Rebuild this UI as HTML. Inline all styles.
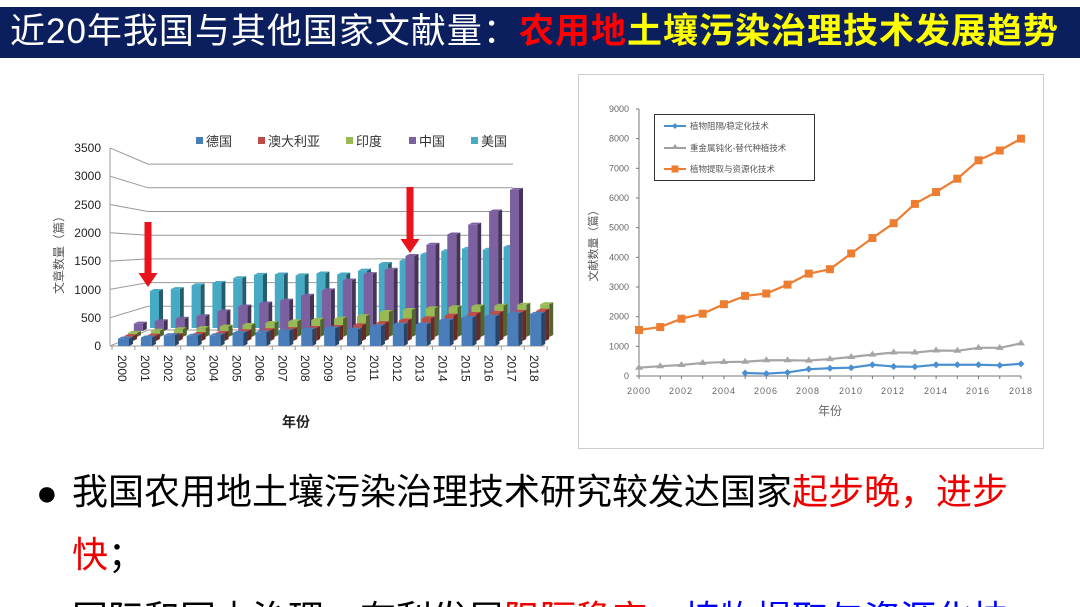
<!DOCTYPE html>
<html><head><meta charset="utf-8">
<style>
html,body{margin:0;padding:0;background:#fff;width:1080px;height:607px;overflow:hidden;position:relative;font-family:"Liberation Sans","Noto Sans CJK SC",sans-serif;}
#hdr{position:absolute;left:0;top:7px;width:1080px;height:51px;background:#0b1f5e;}
#hdr div{position:absolute;left:10px;top:5px;font-size:35px;line-height:40px;color:#fff;white-space:nowrap;letter-spacing:1px;}
.r{color:#f00;font-weight:bold}.y{color:#ff0;font-weight:bold}
.t{position:absolute;font-size:36px;line-height:40px;color:#000;white-space:nowrap;}
#clip{position:absolute;left:0;top:590px;width:1080px;height:17px;overflow:hidden;}
svg{position:absolute;left:0;top:0}
</style></head><body>
<div id="hdr"><div>近20年我国与其他国家文献量：<span class="r">农用地</span><span class="y">土壤污染治理技术发展趋势</span></div></div>

<svg id="s" width="1080" height="607" font-family="Liberation Sans, Noto Sans CJK SC, sans-serif">
<g id="left"></g>
<g id="right"></g>
<g font-size="13" fill="#333">
<rect x="196" y="137" width="7" height="7" fill="#4a7ebb"/><text x="206" y="146">德国</text>
<rect x="258" y="137" width="7" height="7" fill="#be4b48"/><text x="268" y="146">澳大利亚</text>
<rect x="346" y="137" width="7" height="7" fill="#98b954"/><text x="356" y="146">印度</text>
<rect x="409" y="137" width="7" height="7" fill="#7d60a0"/><text x="419" y="146">中国</text>
<rect x="471" y="137" width="7" height="7" fill="#46aac5"/><text x="481" y="146">美国</text>
</g>
<g font-size="12" fill="#222" text-anchor="end">
<text x="101" y="152">3500</text><text x="101" y="180">3000</text><text x="101" y="209">2500</text>
<text x="101" y="237">2000</text><text x="101" y="265">1500</text><text x="101" y="294">1000</text>
<text x="101" y="322">500</text><text x="101" y="350">0</text>
</g>
<text transform="translate(63,252) rotate(-90)" font-size="12" fill="#555" text-anchor="middle">文章数量（篇）</text>
<g id="xl" font-size="12" fill="#222"></g>
<text x="296" y="427" font-size="14" font-weight="bold" fill="#222" text-anchor="middle">年份</text>
<rect x="578.5" y="74.5" width="465" height="374" fill="none" stroke="#ccc"/>
<g font-size="9" fill="#666" text-anchor="end" id="ryl"></g>
<g font-size="9" fill="#666" text-anchor="middle" letter-spacing="1">
<text x="639" y="394">2000</text><text x="681" y="394">2002</text><text x="724" y="394">2004</text>
<text x="766" y="394">2006</text><text x="808" y="394">2008</text><text x="851" y="394">2010</text>
<text x="893" y="394">2012</text><text x="936" y="394">2014</text><text x="978" y="394">2016</text>
<text x="1021" y="394">2018</text>
</g>
<text x="830" y="415" font-size="12" fill="#666" text-anchor="middle">年份</text>
<text transform="translate(597,243) rotate(-90)" font-size="11" fill="#555" text-anchor="middle">文献数量（篇）</text>
<rect x="654.5" y="114.5" width="160" height="66" fill="#fff" stroke="#333" stroke-width="1"/>
<g font-size="8.5" fill="#555">
<line x1="664" y1="126" x2="686" y2="126" stroke="#4a90d0" stroke-width="2"/><path d="M675 123l3 3-3 3-3-3z" fill="#4a90d0"/>
<text x="690" y="129">植物阻隔/稳定化技术</text>
<line x1="664" y1="148" x2="686" y2="148" stroke="#a0a0a0" stroke-width="2"/><path d="M675 144l3.5 5h-7z" fill="#a0a0a0"/>
<text x="690" y="151">重金属钝化-替代种植技术</text>
<line x1="664" y1="169" x2="686" y2="169" stroke="#ed7d31" stroke-width="2"/><rect x="671.5" y="165.5" width="7" height="7" fill="#ed7d31"/>
<text x="690" y="172">植物提取与资源化技术</text>
</g>
</svg>

<div class="t" style="left:36px;top:473px;">●</div>
<div class="t" style="left:72px;top:472px;">我国农用地土壤污染治理技术研究较发达国家<span style="color:#e00">起步晚，进步</span></div>
<div class="t" style="left:72px;top:535px;"><span style="color:#e00">快</span>；</div>
<div id="clip"><div class="t" style="left:72px;top:9px;">国际和国内治理，有利发展<span style="color:#e00">阻隔稳定</span>，<span style="color:#00f">植物提取与资源化技</span></div></div>

<script>
var NS="http://www.w3.org/2000/svg";
function el(p,t,a){var e=document.createElementNS(NS,t);for(var k in a)e.setAttribute(k,a[k]);p.appendChild(e);return e;}
var L=document.getElementById('left');
for(var i=0;i<=7;i++){
 var yf=346-i*28.3, yb=330-i*23.7;
 el(L,'path',{d:'M110 '+yf+'L148 '+yb+'L513 '+yb,fill:'none',stroke:'#999','stroke-width':1});
}
el(L,'line',{x1:110,y1:148,x2:110,y2:346,stroke:'#999'});
el(L,'line',{x1:110,y1:346,x2:545,y2:346,stroke:'#999'});
for(var i=0;i<=19;i++){var x=112+i*22.9;el(L,'line',{x1:x,y1:346,x2:x,y2:350,stroke:'#999'});}
var years=[];for(var y=2000;y<=2018;y++)years.push(y);
var xl=document.getElementById('xl');
years.forEach(function(y,i){var x=118+i*22.9;el(xl,'text',{transform:'translate('+x+',355) rotate(90)'}).textContent=y;});
function shade(c,f){var n=parseInt(c.slice(1),16);var r=(n>>16)*f|0,g=((n>>8)&255)*f|0,b=(n&255)*f|0;return 'rgb('+r+','+g+','+b+')';}
function bar(x,base,h,c,w){
 w=w||9;
 el(L,'path',{d:'M'+(x+w)+' '+(base-h)+'l4 -2v'+h+'l-4 2z',fill:shade(c,0.55)});
 el(L,'path',{d:'M'+x+' '+(base-h)+'l4 -2h'+w+'l-4 2z',fill:c});
 el(L,'rect',{x:x,y:base-h,width:w,height:h,fill:c});
}
var usa=[780,820,900,950,1050,1120,1130,1110,1150,1130,1210,1350,1420,1550,1620,1670,1650,1710];
var chn=[150,200,250,300,400,500,560,620,720,830,1030,1160,1250,1530,1760,1970,2170,2440,2880];
var ind=[80,120,150,170,200,230,270,300,330,350,400,480,520,550,570,590,600,620,630];
var aus=[90,100,110,130,150,180,200,220,240,260,290,330,380,420,470,500,520,540,560];
var ger=[130,150,190,180,190,230,240,270,290,310,290,350,380,380,450,500,520,570,570];
usa.forEach(function(v,i){bar(150+i*20.8,328,v*0.0474,'#46aac5',9);});
chn.forEach(function(v,i){var x=510-(18-i)*20.9;bar(x,331,v*0.049,'#7d60a0',9);});
ind.forEach(function(v,i){bar(128+i*22.9,337,v*0.052,'#98b954',9);});
aus.forEach(function(v,i){bar(124+i*22.9,341,v*0.054,'#be4b48',9);});
ger.forEach(function(v,i){bar(118+i*22.9,346,v*0.0566,'#4a7ebb',11);});
function arrow(x,y1,y2){el(L,'path',{d:'M'+(x-3.5)+' '+y1+'h7v'+(y2-y1-14)+'h6l-9.5 14l-9.5 -14h6z',fill:'#e8131b'});}
arrow(148,222,287);arrow(410,187,253);
var R=document.getElementById('right');
var ryl=document.getElementById('ryl');
for(var k=0;k<=9;k++){var yy=376-k*29.67;el(ryl,'text',{x:629,y:yy+3}).textContent=k*1000;}
el(R,'line',{x1:639,y1:109,x2:639,y2:376,stroke:'#777'});
el(R,'line',{x1:639,y1:376,x2:1021,y2:376,stroke:'#777'});
for(var k=0;k<=9;k++){el(R,'line',{x1:636,y1:376-k*29.67,x2:639,y2:376-k*29.67,stroke:'#777'});}
for(var k=0;k<=18;k++){el(R,'line',{x1:639+k*21.22,y1:376,x2:639+k*21.22,y2:379,stroke:'#777'});}
function px(i){return 639+i*21.22;} function py(v){return 376-v*0.02967;}
var org=[1550,1650,1930,2100,2420,2700,2780,3080,3450,3600,4130,4650,5150,5800,6200,6650,7270,7600,8000];
var gry=[280,330,370,440,470,480,530,530,520,570,640,720,790,790,860,850,950,950,1100];
var blu=[100,80,120,230,260,280,380,320,310,380,380,380,360,410];
function line(d,off,c){var s='';d.forEach(function(v,i){s+=(i?'L':'M')+px(i+off)+' '+py(v);});el(R,'path',{d:s,fill:'none',stroke:c,'stroke-width':2.2});}
line(org,0,'#ed7d31');line(gry,0,'#a5a5a5');line(blu,5,'#4a90d0');
org.forEach(function(v,i){el(R,'rect',{x:px(i)-4,y:py(v)-4,width:8,height:8,fill:'#ed7d31'});});
gry.forEach(function(v,i){var x=px(i),y=py(v);el(R,'path',{d:'M'+x+' '+(y-4)+'l4 6h-8z',fill:'#a5a5a5'});});
blu.forEach(function(v,i){var x=px(i+5),y=py(v);el(R,'path',{d:'M'+x+' '+(y-3.5)+'l3.5 3.5-3.5 3.5-3.5-3.5z',fill:'#4a90d0'});});
</script>
</body></html>
